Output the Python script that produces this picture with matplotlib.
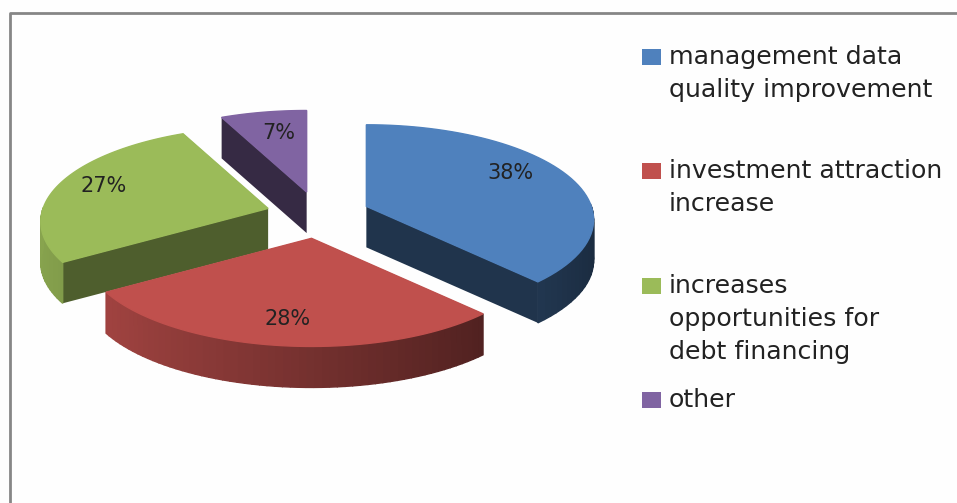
import numpy as np
import matplotlib
matplotlib.use("Agg")
import matplotlib.pyplot as plt
from matplotlib.colors import to_rgb
from matplotlib.lines import Line2D
from matplotlib.patches import Polygon, Rectangle

categories = [
    "management data\nquality improvement",
    "investment attraction\nincrease",
    "increases\nopportunities for\ndebt financing",
    "other",
]
shares = [38, 28, 27, 7]
colors = ["#4f81bd", "#c0504d", "#9bbb59", "#8064a2"]

# geometry in pixels, fitted by eye
CX, CY = 318, 215
RX, RY = 225, 93
PERSP = 0.14
EXPLODE_X, EXPLODE_Y = 52, 23.5
DEPTH = 41
CUT_SHADE = [0.40, 0.40, 0.50, 0.42]
LABEL_OFFSET = [(144, -33), (-24, 81), (-164, -22), (-28, -59)]
DRAW_ORDER = [3, 2, 0, 1]


def shade(color, factor):
    return tuple(c * factor for c in to_rgb(color))


def rim(theta, apex):
    # point on the tilted disc edge, near side drawn a bit larger
    s = 1 / (1 + PERSP * np.cos(theta))
    return np.column_stack([
        apex[0] + RX * np.sin(theta) * s,
        apex[1] - RY * np.cos(theta) * s,
    ])


def draw_slice(ax, start, stop, color, cut_shade):
    mid = (start + stop) / 2
    apex = np.array([CX + EXPLODE_X * np.sin(mid), CY - EXPLODE_Y * np.cos(mid)])
    theta = np.linspace(start, stop, 60)
    edge = rim(theta, apex)
    down = np.array([0, DEPTH])

    # cut faces
    for end in (edge[0], edge[-1]):
        face = [apex, end, end + down, apex + down]
        ax.add_patch(Polygon(face, closed=True, fc=shade(color, cut_shade), ec="none"))

    # outer wall, lit from the left, back part is never seen
    for i in range(len(theta) - 1):
        if np.cos(theta[i]) > 0 and np.cos(theta[i + 1]) > 0:
            continue
        factor = 0.605 - 0.27 * np.sin((theta[i] + theta[i + 1]) / 2)
        quad = [edge[i], edge[i + 1], edge[i + 1] + down, edge[i] + down]
        c = shade(color, factor)
        ax.add_patch(Polygon(quad, closed=True, fc=c, ec=c, lw=1.0))

    top = np.vstack([apex, edge])
    ax.add_patch(Polygon(top, closed=True, fc=color, ec=color, lw=1.0))
    return apex


fig = plt.figure(figsize=(9.57, 5.03), dpi=100, facecolor="#fefefe")
ax = fig.add_axes([0, 0, 1, 1])
ax.set_xlim(0, 957)
ax.set_ylim(503, 0)
ax.axis("off")

# chart frame, only top and left are in the crop
ax.add_line(Line2D([10, 10, 957], [503, 13, 13], color="#868686", lw=2))

edges = np.deg2rad(np.cumsum([0] + shares) * 3.6)
apexes = {}
for i in DRAW_ORDER:
    apexes[i] = draw_slice(ax, edges[i], edges[i + 1], colors[i], CUT_SHADE[i])

for i in DRAW_ORDER:
    ax.text(apexes[i][0] + LABEL_OFFSET[i][0], apexes[i][1] + LABEL_OFFSET[i][1],
            f"{shares[i]}%", ha="center", va="center", fontsize=15, color="#222222")

# legend
LEGEND_Y = [57, 171, 286, 400]
for label, color, y in zip(categories, colors, LEGEND_Y):
    ax.add_patch(Rectangle((642, y - 8), 19, 16, fc=color, ec="none"))
    for j, line in enumerate(label.split("\n")):
        ax.text(669, y + j * 33, line, ha="left", va="center", fontsize=18.2, color="#222222")

fig.savefig("out.png", dpi=100, facecolor=fig.get_facecolor())
plt.close(fig)
